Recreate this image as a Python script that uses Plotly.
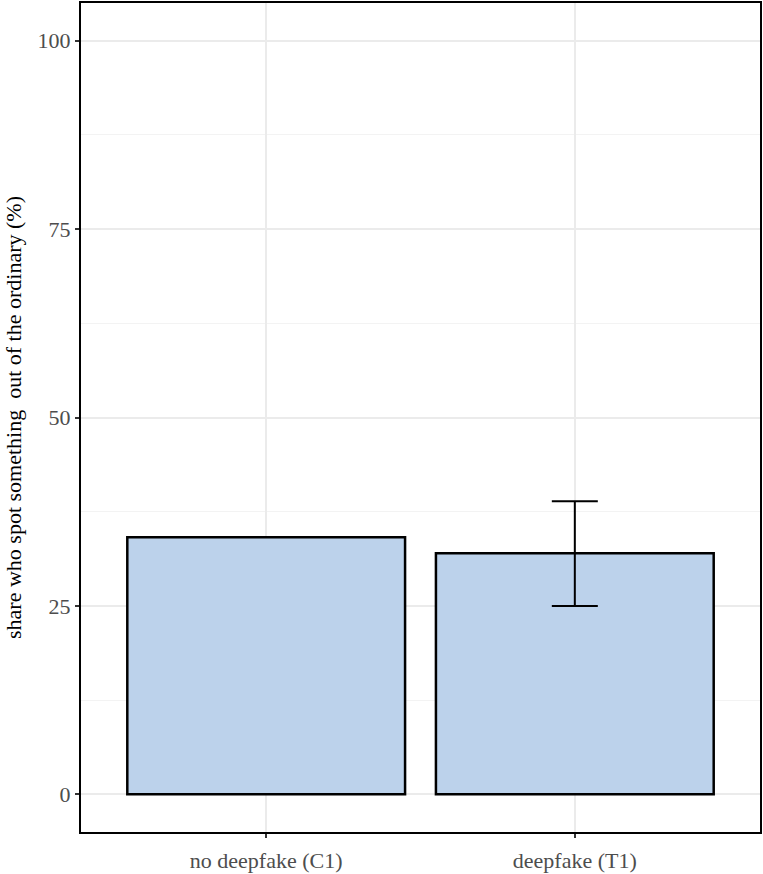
import plotly.graph_objects as go

categories = ["no deepfake (C1)", "deepfake (T1)"]
shares = [34.1, 32.0]
ci_category = ["deepfake (T1)"]
ci_mean = [32.0]
ci_low = [25.0]
ci_high = [38.9]
y_ticks = [0, 25, 50, 75, 100]

FONT = "Liberation Serif, Times New Roman, DejaVu Serif, serif"

fig = go.Figure()
fig.add_trace(go.Bar(
    x=categories, y=shares,
    marker=dict(color="#BCD2EB", line=dict(color="black", width=2.5)),
    width=0.9, showlegend=False, hoverinfo="x+y",
))
fig.add_trace(go.Scatter(
    x=ci_category, y=ci_mean, mode="markers",
    marker=dict(size=0.1, color="rgba(0,0,0,0)"),
    error_y=dict(type="data", symmetric=False,
                 array=[h - m for h, m in zip(ci_high, ci_mean)],
                 arrayminus=[m - l for m, l in zip(ci_mean, ci_low)],
                 color="black", thickness=2, width=23),
    showlegend=False,
))

fig.update_layout(
    width=763, height=874,
    margin=dict(l=81, r=1, t=2, b=42),
    paper_bgcolor="white", plot_bgcolor="white",
    font=dict(family=FONT, size=22, color="#4D4D4D"),
    xaxis=dict(
        type="category", range=[-0.6, 1.6],
        showgrid=True, gridcolor="#EBEBEB", gridwidth=1.5,
        showline=True, mirror=True, linecolor="black", linewidth=2,
        ticks="outside", ticklen=4, tickwidth=2, tickcolor="#333333",
        tickfont=dict(family=FONT, size=22, color="#4D4D4D"),
        ticklabelstandoff=4,
        zeroline=False,
    ),
    yaxis=dict(
        range=[-5, 105], tickvals=y_ticks,
        showgrid=True, gridcolor="#EBEBEB", gridwidth=1.5,
        minor=dict(tick0=0, dtick=12.5, showgrid=True, gridcolor="#F3F3F3", gridwidth=1, ticks=""),
        showline=True, mirror=True, linecolor="black", linewidth=2,
        ticks="outside", ticklen=4, tickwidth=2, tickcolor="#333333",
        tickfont=dict(family=FONT, size=22, color="#4D4D4D"),
        zeroline=False,
        title=dict(text="share who spot something  out of the ordinary (%)",
                   font=dict(family=FONT, size=22, color="black"), standoff=10),
    ),
)

fig.write_html("out.html", config={"displayModeBar": False},
               post_script="document.body.style.margin='0';")
